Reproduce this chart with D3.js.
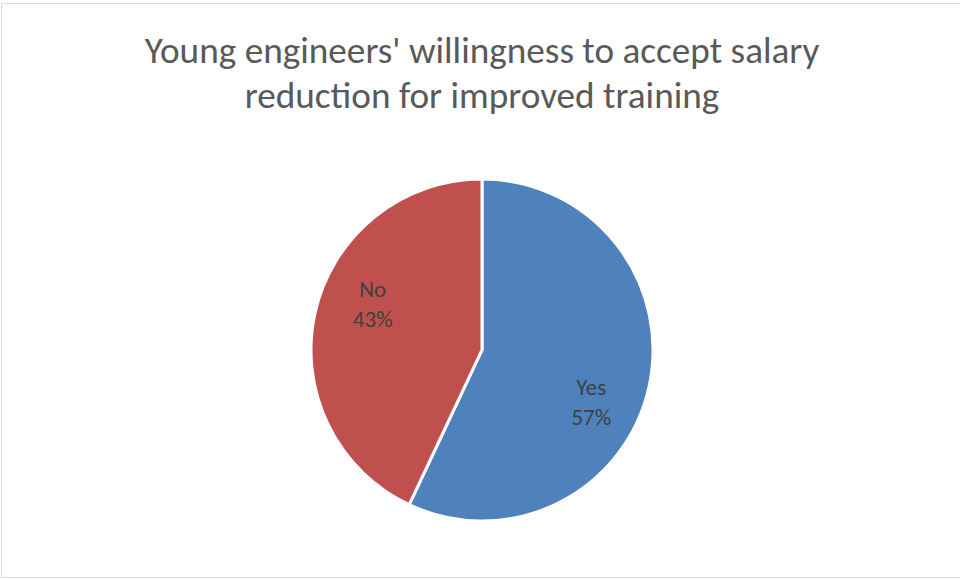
<!DOCTYPE html>
<html>
<head>
<meta charset="utf-8">
<script src="https://cdn.jsdelivr.net/npm/d3@7"></script>
<style>
  body { margin: 0; background: #fff; }
  text { font-family: Carlito, 'Liberation Sans Narrow', 'Open Sans', sans-serif; }
</style>
</head>
<body>
<div id="chart"></div>
<script>
const categories = ['Yes', 'No']
const values = [57, 43]
const titleLines = ["Young engineers' willingness to accept salary", 'reduction for improved training']

const width = 960
const height = 580

const svg = d3
  .select('#chart')
  .append('svg')
  .attr('width', width)
  .attr('height', height)

// chart area border
svg
  .append('rect')
  .attr('x', 1.5)
  .attr('y', 3.5)
  .attr('width', width + 10)
  .attr('height', 574)
  .attr('fill', '#fff')
  .attr('stroke', '#d9d9d9')

const title = svg
  .append('text')
  .attr('text-anchor', 'middle')
  .attr('fill', '#595959')
  .attr('font-size', 37)

title
  .selectAll('tspan')
  .data(titleLines)
  .enter()
  .append('tspan')
  .attr('x', 482)
  .attr('y', (d, i) => 63 + i * 45)
  .text(d => d)

// fit first line to the width seen in the reference
const w = title.select('tspan').node().getComputedTextLength()
title.attr('font-size', 37 * 675 / w)

const radius = 171
const colorScale = d3.scaleOrdinal().domain(categories).range(['#4f81bd', '#c0504d'])

const pie = d3.pie().sort(null).value(d => d.value)
const arc = d3.arc().innerRadius(0).outerRadius(radius)
const labelArc = d3.arc().innerRadius(112).outerRadius(112)

const data = categories.map((c, i) => ({ category: c, value: values[i] }))

const g = svg.append('g').attr('transform', 'translate(482, 350)')

g.selectAll('.slice')
  .data(pie(data))
  .enter()
  .append('path')
  .attr('class', 'slice')
  .attr('d', arc)
  .attr('fill', d => colorScale(d.data.category))
  .attr('stroke', '#fff')
  .attr('stroke-width', 3)

// Excel's best-fit labels sit a bit off the centroid
const nudge = { Yes: 28, No: -22 }

const labels = g
  .selectAll('.label')
  .data(pie(data))
  .enter()
  .append('text')
  .attr('class', 'label')
  .attr('text-anchor', 'middle')
  .attr('fill', '#404040')
  .attr('font-size', 23)
  .attr('transform', d => {
    const [x, y] = labelArc.centroid(d)
    return `translate(${x}, ${y + nudge[d.data.category]})`
  })

labels
  .append('tspan')
  .attr('x', 0)
  .attr('y', -7)
  .text(d => d.data.category)

labels
  .append('tspan')
  .attr('x', 0)
  .attr('y', 23)
  .text(d => Math.round(d.value) + '%')
</script>
</body>
</html>
